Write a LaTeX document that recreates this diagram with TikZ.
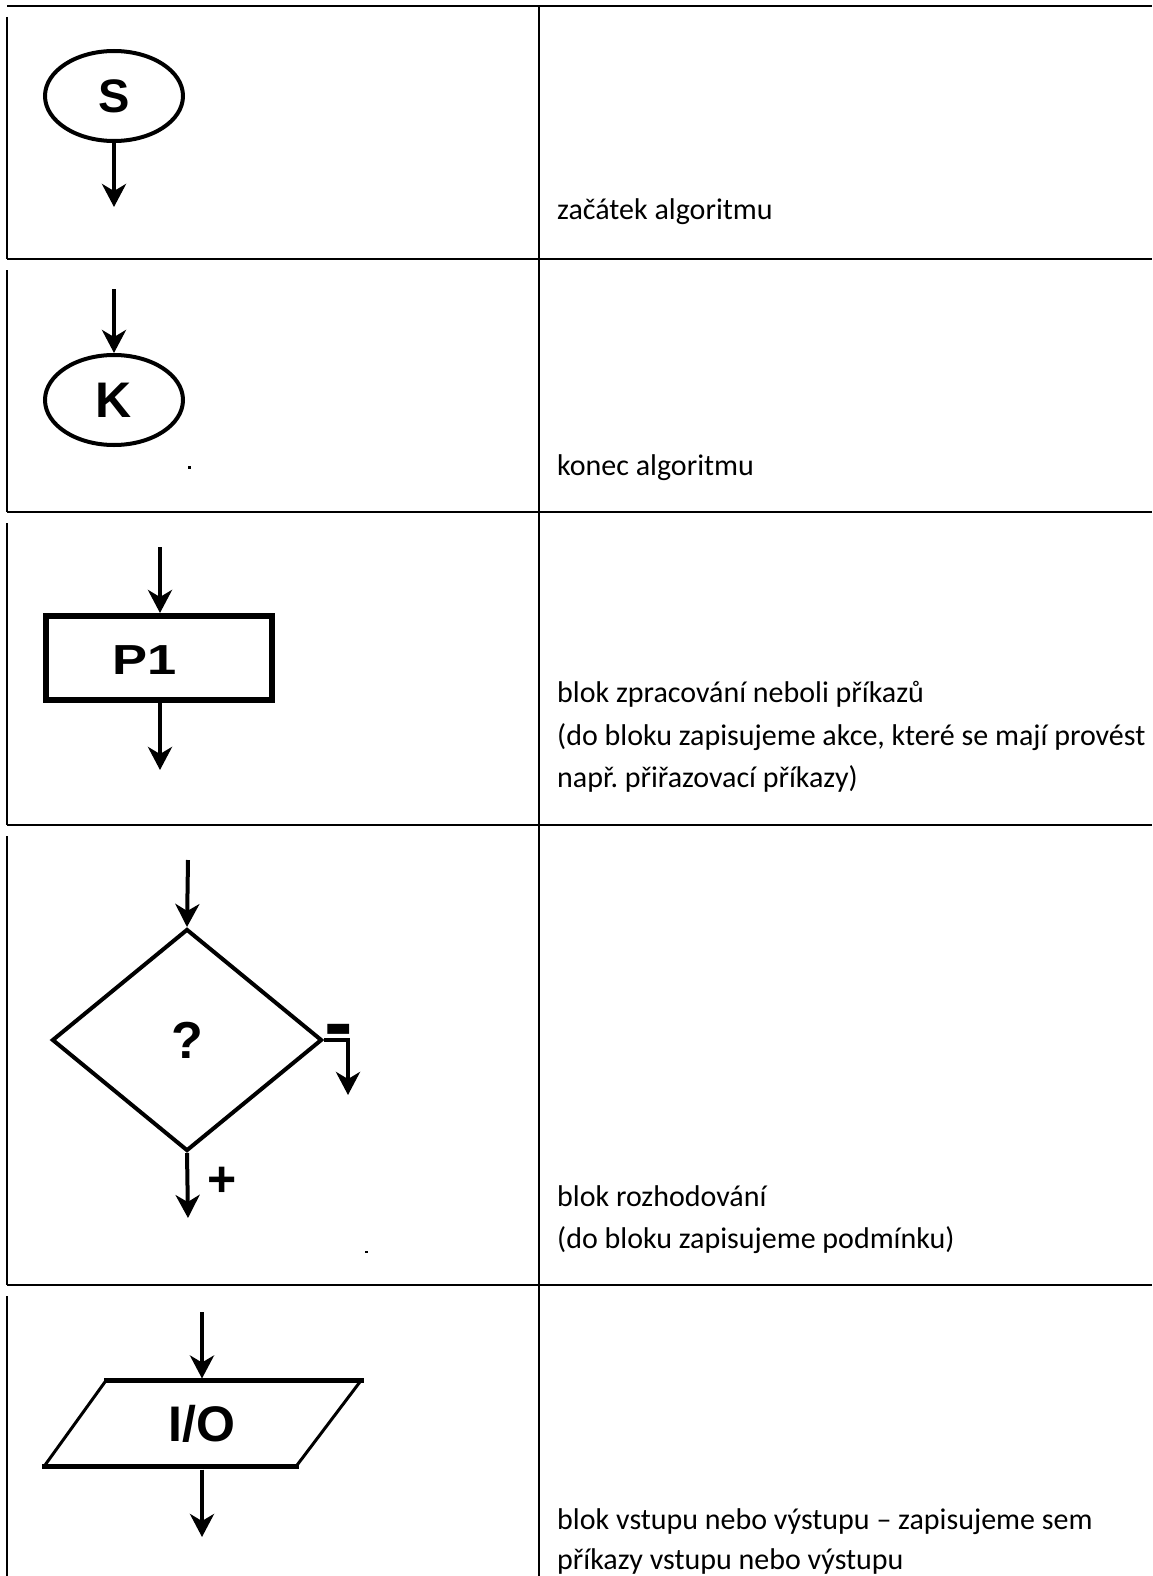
\documentclass[tikz,border=0pt]{standalone}
\usepackage{fontspec}
\setmainfont{Carlito}
\newfontfamily\shpfont{Liberation Sans}
\usetikzlibrary{shapes.geometric,arrows.meta}
\begin{document}
\frenchspacing
\begin{tikzpicture}[x=1pt,y=-1pt,
  grid/.style={line width=2pt,black},
  flow/.style={line width=4pt,-{Stealth[length=23pt,width=24pt,inset=7pt]}},
  term/.style={ellipse,draw,line width=4pt,minimum width=138pt,minimum height=90pt,inner sep=0pt,font=\shpfont\bfseries\fontsize{47}{47}\selectfont},
  procbox/.style={rectangle,draw,line width=6pt,minimum width=226pt,minimum height=84pt,inner sep=0pt},
  shptext/.style={inner sep=0pt,font=\shpfont\bfseries\fontsize{42}{42}\selectfont},
  decbox/.style={diamond,draw,line width=4pt,minimum width=270pt,minimum height=222pt,inner sep=0pt,font=\shpfont\bfseries\fontsize{52}{52}\selectfont},
  iobox/.style={rectangle,minimum height=91pt,minimum width=10pt,inner sep=0pt,outer sep=0pt,font=\shpfont\bfseries\fontsize{50}{50}\selectfont},
  signlbl/.style={inner sep=0pt,font=\shpfont\bfseries\fontsize{50}{50}\selectfont},
  desc/.style={anchor=base west,inner sep=0pt,font=\fontsize{30}{36}\selectfont}]
\useasboundingbox (0,0) rectangle (1152,1576);
% table lines
\draw[grid] (7,6) -- (1152,6);
\draw[grid] (7,259) -- (1152,259);
\draw[grid] (7,512) -- (1152,512);
\draw[grid] (7,825) -- (1152,825);
\draw[grid] (7,1285) -- (1152,1285);
\draw[grid] (539,6) -- (539,1576);
\draw[grid] (7,17) -- (7,259);
\draw[grid] (7,270) -- (7,512);
\draw[grid] (7,523) -- (7,825);
\draw[grid] (7,836) -- (7,1285);
\draw[grid] (7,1296) -- (7,1576);
% row 1: start
\node[term] (S) at (114,96) {S};
\coordinate (sEnd) at (114,207);
\draw[flow] (S.south) -- (sEnd);
% row 2: end
\node[term,font=\shpfont\bfseries\fontsize{50}{50}\selectfont] (K) at (114,400) {K};
\coordinate (kStart) at (114,289);
\draw[flow] (kStart) -- (K.north);
\fill (188,466) rectangle (191,469);
% row 3: process
\node[procbox] (P) at (159,658) {};
\node[shptext] (Ptext) at (145,660) {\scalebox{1.25}[1]{P1}};
\coordinate (pStart) at (160,547);
\coordinate (pEnd) at (160,770);
\draw[flow] (pStart) -- (P.north -| pStart);
\draw[flow] (P.south -| pEnd) -- (pEnd);
% row 4: decision
\node[decbox] (D) at (187,1040) {?};
\coordinate (dStart) at (188,860);
\coordinate (dPlus) at (188,1218);
\coordinate (dMinus) at (348,1095);
\draw[flow] (dStart) -- (D.north);
\draw[flow] (D.south) -- (dPlus);
\draw[flow] (D.east) -| (dMinus);
\node[signlbl,font=\shpfont\bfseries\fontsize{44}{44}\selectfont] (minus) at (339,1040) {\scalebox{1}[2.3]{–}};
\node[signlbl] (plus) at (222,1182) {+};
\fill (365,1251) rectangle (368,1253);
% row 5: input/output
\node[iobox] (IO) at (202,1424) {I/O};
\coordinate (ioTL) at (106,1380.5);
\coordinate (ioTR) at (361,1380.5);
\coordinate (ioBR) at (296,1466.5);
\coordinate (ioBL) at (44,1466.5);
\draw[line width=3pt] (ioTL) -- (ioBL) (ioTR) -- (ioBR);
\draw[line width=5pt,line cap=rect] (ioTL) -- (ioTR) (ioBL) -- (ioBR);
\coordinate (ioStart) at (202,1312);
\coordinate (ioEnd) at (202,1537);
\draw[flow] (ioStart) -- (IO.north);
\draw[flow] (IO.south) -- (ioEnd);
% descriptions
\node[desc] (t1) at (557,219) {začátek algoritmu};
\node[desc] (t2) at (557,475) {konec algoritmu};
\node[desc] (t3a) at (557,702) {blok zpracování neboli příkazů};
\node[desc] (t3b) at (557,745) {(do bloku zapisujeme akce, které se mají provést};
\node[desc] (t3c) at (557,787) {např. přiřazovací příkazy)};
\node[desc] (t4a) at (557,1206) {blok rozhodování};
\node[desc] (t4b) at (557,1248) {(do bloku zapisujeme podmínku)};
\node[desc] (t5a) at (557,1529) {blok vstupu nebo výstupu – zapisujeme sem};
\node[desc] (t5b) at (557,1569) {příkazy vstupu nebo výstupu};
\end{tikzpicture}
\end{document}
